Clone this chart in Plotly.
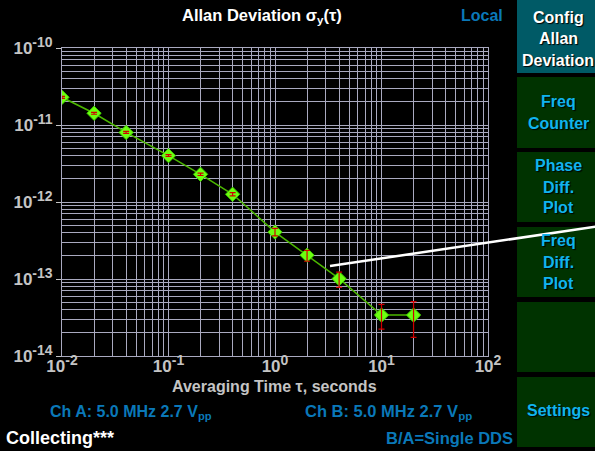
import plotly.graph_objects as go

# ---- data ----
tau = [0.01, 0.02, 0.04, 0.1, 0.2, 0.4, 1, 2, 4, 10, 20]
adev = [2.29e-11, 1.42e-11, 8.0e-12, 4.0e-12, 2.29e-12, 1.26e-12,
        4.07e-13, 2.04e-13, 1.01e-13, 3.4e-14, 3.4e-14]
adev_upper = [2.36e-11, 1.46e-11, 8.25e-12, 4.12e-12, 2.37e-12, 1.32e-12,
              4.55e-13, 2.36e-13, 1.23e-13, 4.69e-14, 5.07e-14]
adev_lower = [2.22e-11, 1.38e-11, 7.8e-12, 3.9e-12, 2.21e-12, 1.20e-12,
              3.63e-13, 1.70e-13, 7.8e-14, 2.24e-14, 1.75e-14]

x_tickvals = [0.01, 0.1, 1, 10, 100]
x_exponents = ["-2", "-1", "0", "1", "2"]
y_tickvals = [1e-14, 1e-13, 1e-12, 1e-11, 1e-10]
y_exponents = ["-14", "-13", "-12", "-11", "-10"]

err_plus = [u - v for u, v in zip(adev_upper, adev)]
err_minus = [v - l for v, l in zip(adev, adev_lower)]

# ---- layout geometry (pixels) ----
W, H = 595, 451
L, R, T, B = 62, 488, 48, 356


def px(x):
    return (x - L) / (R - L)


def py(y):
    return (B - y) / (B - T)


def power_label(e):
    return "10<sup><span style='font-size:14px'>" + e + "</span></sup>"


GRID = "#a9a9bf"
TICK = "#c4c4c4"
BLUE = "#0a78b8"
CYAN = "#10b4ee"
FONT = "Liberation Sans"

fig = go.Figure()
fig.add_trace(go.Scatter(
    x=tau, y=adev, mode="lines+markers",
    line=dict(color="#4cb800", width=1.5),
    marker=dict(symbol="diamond", size=11, color="#6cff10",
                line=dict(color="#3ccc00", width=1)),
    showlegend=False, hoverinfo="skip"))
fig.add_trace(go.Scatter(
    x=tau, y=adev, mode="markers",
    marker=dict(size=1, opacity=0),
    error_y=dict(type="data", symmetric=False, array=err_plus, arrayminus=err_minus,
                 color="#d00000", thickness=1.2, width=3),
    showlegend=False, hoverinfo="skip"))

minor_x = [k * 10 ** e for e in range(-2, 2) for k in range(2, 10)]
minor_y = [k * 10 ** e for e in range(-14, -10) for k in range(2, 10)]

axis_font = dict(family=FONT, size=17, color=TICK, weight="bold")
fig.update_xaxes(type="log", range=[-2, 2], tickmode="array",
                 tickvals=x_tickvals, ticktext=[power_label(e) for e in x_exponents],
                 showgrid=True, gridcolor=GRID, gridwidth=1,
                 minor=dict(tickmode="array", tickvals=minor_x, showgrid=True,
                            gridcolor=GRID, gridwidth=1),
                 ticks="", tickfont=axis_font, zeroline=False, ticklabelstandoff=-5,
                 showline=True, linecolor=GRID, mirror=True)
fig.update_yaxes(type="log", range=[-14, -10], tickmode="array",
                 tickvals=y_tickvals, ticktext=[power_label(e) for e in y_exponents],
                 showgrid=True, gridcolor=GRID, gridwidth=1,
                 minor=dict(tickmode="array", tickvals=minor_y, showgrid=True,
                            gridcolor=GRID, gridwidth=1),
                 ticks="outside", ticklen=5, tickcolor=TICK,
                 tickfont=axis_font, zeroline=False,
                 showline=True, linecolor=GRID, mirror=True)

shapes = []
# right-hand soft buttons
shapes.append(dict(type="rect", xref="paper", yref="paper",
                   x0=px(517), x1=px(600), y0=py(0), y1=py(73),
                   fillcolor="#005a66", line=dict(width=0), layer="above"))
for y0, y1 in [(77, 148), (152, 222), (227, 297), (302, 372), (377, 447)]:
    shapes.append(dict(type="rect", xref="paper", yref="paper",
                       x0=px(517), x1=px(600), y0=py(y0), y1=py(y1),
                       fillcolor="#003300", line=dict(width=0), layer="above"))
# pointer line
shapes.append(dict(type="line", xref="paper", yref="paper",
                   x0=px(330), y0=py(266), x1=px(600), y1=py(226),
                   line=dict(color="white", width=2.5), layer="above"))

ann = []


def text(s, x, y, color, size=16, xanchor="center", shadow="none"):
    ann.append(dict(text=s, x=px(x), y=py(y), xref="paper", yref="paper",
                    xanchor=xanchor, yanchor="middle", showarrow=False,
                    font=dict(family=FONT, size=size, color=color, weight="bold",
                              shadow=shadow)))


text("Allan Deviation σ<sub>y</sub>(τ)", 262, 16, "white", 16.5)
text("Local", 505, 16, BLUE, 16, xanchor="right")
text("Averaging Time τ, seconds", 274, 386, TICK, 16)
text("Ch A: 5.0 MHz 2.7 V<sub>pp</sub>", 48, 412, BLUE, 16, xanchor="left")
text("Ch B: 5.0 MHz 2.7 V<sub>pp</sub>", 303, 412, BLUE, 16.5, xanchor="left")
text("Collecting***", 4, 438, "white", 18, xanchor="left")
text("B/A=Single DDS", 515, 438, BLUE, 16.5, xanchor="right")

sh = "1px 1px 1px #000000"
text("Config", 558, 17, "white", 16, shadow=sh)
text("Allan", 558, 39, "white", 16, shadow=sh)
text("Deviation", 558, 60, "white", 16, shadow=sh)
text("Freq", 558, 101, CYAN, 16, shadow=sh)
text("Counter", 558, 123, CYAN, 16, shadow=sh)
text("Phase", 558, 165, CYAN, 16, shadow=sh)
text("Diff.", 558, 187, CYAN, 16, shadow=sh)
text("Plot", 558, 208, CYAN, 16, shadow=sh)
text("Freq", 558, 240, CYAN, 16, shadow=sh)
text("Diff.", 558, 262, CYAN, 16, shadow=sh)
text("Plot", 558, 283, CYAN, 16, shadow=sh)
text("Settings", 558, 410, CYAN, 16, shadow=sh)

fig.update_layout(width=W, height=H,
                  margin=dict(l=L, r=W - R, t=T, b=H - B, autoexpand=False),
                  paper_bgcolor="black", plot_bgcolor="black",
                  shapes=shapes, annotations=ann, showlegend=False)

fig.write_html("out.html", config={"displayModeBar": False},
               post_script="document.body.style.margin='0px';document.body.style.overflow='hidden';")
